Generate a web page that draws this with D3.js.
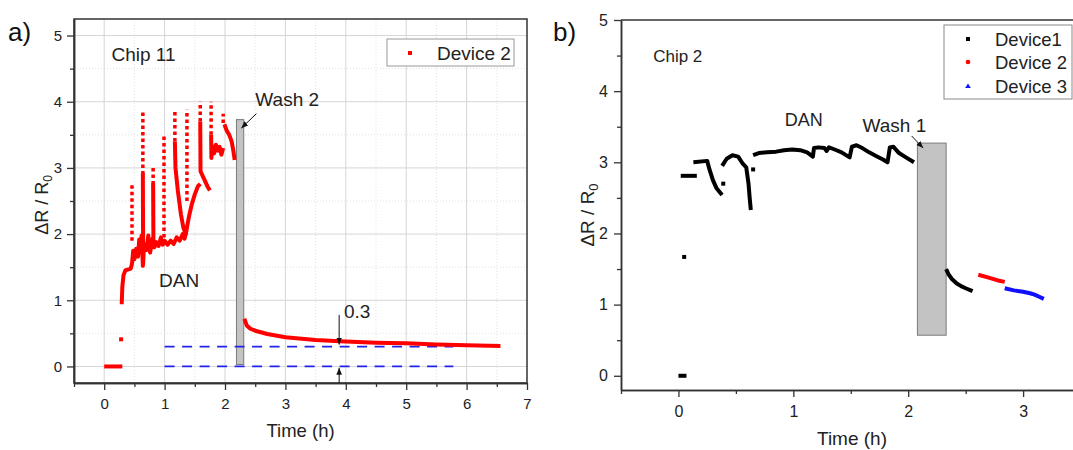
<!DOCTYPE html>
<html>
<head>
<meta charset="utf-8">
<script src="https://cdn.jsdelivr.net/npm/d3@7"></script>
<style>
  body { margin: 0; background: #fff; overflow: hidden; }
  svg { display: block; font-family: "Liberation Sans", Arial, sans-serif; }
</style>
</head>
<body>
<div id="chart"></div>
<script>
// ---- data (time in h, value is dR/R0) ----
const timeTicksA = [0, 1, 2, 3, 4, 5, 6, 7];
const timeTicksB = [0, 1, 2, 3];
const valueTicks = [0, 1, 2, 3, 4, 5];

// Chip 11, device 2
const chip11Flat = [[0, 0], [0.3, 0]];
const chip11Stray = [[0.28, 0.41]];
const chip11Rise = [[0.29, 0.94], [0.30, 1.2], [0.32, 1.38], [0.35, 1.45], [0.44, 1.48], [0.46, 1.55],
  [0.48, 1.75], [0.50, 1.62], [0.53, 1.78], [0.56, 1.66], [0.58, 1.92], [0.60, 1.72], [0.62, 1.98],
  [0.64, 1.52], [0.66, 1.85], [0.70, 1.76], [0.73, 1.98], [0.76, 1.72], [0.80, 1.93], [0.83, 1.8],
  [0.86, 1.88], [0.90, 1.82], [0.94, 1.95], [0.97, 1.84], [1.0, 1.9], [1.05, 1.84], [1.10, 1.9],
  [1.15, 1.85], [1.20, 1.95], [1.25, 1.9], [1.30, 2.0], [1.33, 1.93], [1.36, 2.05]];
// dotted jumps: [time, low, high]
const chip11Spikes = [[0.46, 1.9, 2.74], [0.64, 2.9, 3.85], [0.81, 2.75, 3.02], [0.99, 1.95, 3.5],
  [1.17, 3.4, 3.88], [1.37, 2.5, 3.88], [1.59, 3.7, 4.0], [1.77, 3.5, 4.0], [1.97, 3.68, 3.82]];
const chip11Runs = [
  [[0.64, 2.92], [0.645, 1.55]],
  [[0.81, 2.77], [0.815, 1.85]],
  [[1.17, 3.4], [1.18, 3.0], [1.22, 2.65], [1.27, 2.3], [1.31, 2.1], [1.35, 2.0], [1.40, 2.25],
   [1.45, 2.45], [1.50, 2.6], [1.55, 2.72], [1.59, 2.76]],
  [[1.59, 3.7], [1.595, 2.95], [1.63, 2.88], [1.67, 2.8], [1.71, 2.72], [1.75, 2.66]],
  [[1.77, 3.5], [1.775, 3.15], [1.79, 3.33], [1.82, 3.22], [1.85, 3.35], [1.88, 3.26], [1.91, 3.32],
   [1.94, 3.2], [1.97, 3.3]],
  [[1.99, 3.66], [2.03, 3.56], [2.07, 3.5], [2.11, 3.4], [2.14, 3.25], [2.16, 3.12]]
];
const chip11Recovery = [[2.32, 0.72], [2.36, 0.62], [2.42, 0.57], [2.5, 0.54], [2.7, 0.49], [3.0, 0.44],
  [3.5, 0.4], [3.9, 0.38], [4.5, 0.36], [5.0, 0.35], [5.5, 0.33], [6.0, 0.32], [6.56, 0.31]];
const chip11Levels = [0, 0.3];
const chip11Wash = [2.19, 2.31, 0.03, 3.73];

// Chip 2
const chip2Dev1Points = [[0.05, 1.67], [0.39, 2.7], [0.65, 2.9]];
const chip2Dev1Runs = [
  [[0, 0], [0.07, 0]],
  [[0.02, 2.81], [0.16, 2.81]],
  [[0.13, 3.0], [0.25, 3.02], [0.27, 2.9], [0.30, 2.75], [0.33, 2.64], [0.36, 2.58], [0.38, 2.54]],
  [[0.38, 2.95], [0.42, 3.05], [0.47, 3.1], [0.52, 3.08], [0.56, 2.98], [0.59, 2.93], [0.61, 2.7],
   [0.62, 2.5], [0.63, 2.33]],
  [[0.65, 3.1], [0.70, 3.13], [0.77, 3.14], [0.85, 3.15], [0.92, 3.17], [0.99, 3.18], [1.06, 3.17],
   [1.12, 3.14], [1.17, 3.08], [1.18, 3.2], [1.22, 3.21], [1.27, 3.2], [1.29, 3.16], [1.31, 3.21],
   [1.36, 3.18], [1.42, 3.14], [1.49, 3.07], [1.51, 3.22], [1.55, 3.24], [1.60, 3.2], [1.66, 3.14],
   [1.72, 3.09], [1.78, 3.04], [1.82, 3.0], [1.84, 3.21], [1.87, 3.22], [1.92, 3.13], [1.98, 3.07],
   [2.05, 3.0]],
  [[2.33, 1.5], [2.35, 1.43], [2.38, 1.36], [2.42, 1.3], [2.46, 1.26], [2.50, 1.23], [2.56, 1.19]]
];
const chip2Dev2 = [[2.61, 1.42], [2.70, 1.38], [2.78, 1.34], [2.84, 1.32]];
const chip2Dev3 = [[2.84, 1.23], [2.92, 1.2], [3.0, 1.18], [3.06, 1.16], [3.10, 1.14], [3.14, 1.11], [3.18, 1.08]];
const chip2Wash = [2.08, 2.33, 0.57, 3.27];

const W = 1073, H = 450;
const svg = d3.select("#chart").append("svg")
  .attr("width", W).attr("height", H)
  .attr("viewBox", [0, 0, W, H]);

svg.append("defs").append("marker")
  .attr("id", "head")
  .attr("viewBox", "0 0 10 10")
  .attr("refX", 10).attr("refY", 5)
  .attr("markerWidth", 7).attr("markerHeight", 7)
  .attr("orient", "auto-start-reverse")
  .append("path").attr("d", "M0,1 L10,5 L0,9 z").attr("fill", "#111");

const halves = (lo, hi) => d3.range(lo, hi + 0.001, 0.5).filter(v => v % 1 !== 0);
const intFmt = d3.format("d");

function styleAxis(g, size) {
  g.select(".domain").attr("stroke", "#333").attr("stroke-width", 1.5);
  g.selectAll(".tick line").attr("stroke", "#333").attr("stroke-width", 1.3);
  g.selectAll(".tick text").attr("fill", "#222").style("font-size", size + "px");
}

function arrow(x, y, p0, p1) {
  svg.append("line")
    .attr("x1", x(p0[0])).attr("y1", y(p0[1]))
    .attr("x2", x(p1[0])).attr("y2", y(p1[1]))
    .attr("stroke", "#111").attr("stroke-width", 1)
    .attr("marker-end", "url(#head)");
}

// ================= panel a =================
const xa = d3.scaleLinear().domain([-0.5, 7]).range([74, 527]);
const ya = d3.scaleLinear().domain([-0.25, 5.25]).range([383, 19]);
const lineA = d3.line().x(d => xa(d[0])).y(d => ya(d[1]));

// grid
const gridA = svg.append("g");
gridA.selectAll(".vmin").data(halves(0, 7)).join("line")
  .attr("x1", d => xa(d)).attr("x2", d => xa(d)).attr("y1", ya(5.25)).attr("y2", ya(-0.25))
  .attr("stroke", "#e2e2e2").attr("stroke-dasharray", "1,2");
gridA.selectAll(".hmin").data(halves(0, 5)).join("line")
  .attr("y1", d => ya(d)).attr("y2", d => ya(d)).attr("x1", xa(-0.5)).attr("x2", xa(7))
  .attr("stroke", "#e2e2e2").attr("stroke-dasharray", "1,2");
gridA.selectAll(".vmaj").data(timeTicksA.slice(0, -1)).join("line")
  .attr("x1", d => xa(d)).attr("x2", d => xa(d)).attr("y1", ya(5.25)).attr("y2", ya(-0.25))
  .attr("stroke", "#d6d6d6");
gridA.selectAll(".hmaj").data(valueTicks).join("line")
  .attr("y1", d => ya(d)).attr("y2", d => ya(d)).attr("x1", xa(-0.5)).attr("x2", xa(7))
  .attr("stroke", "#d6d6d6");

// wash bar
svg.append("rect")
  .attr("x", xa(chip11Wash[0])).attr("width", xa(chip11Wash[1]) - xa(chip11Wash[0]))
  .attr("y", ya(chip11Wash[3])).attr("height", ya(chip11Wash[2]) - ya(chip11Wash[3]))
  .attr("fill", "#c3c3c3").attr("stroke", "#7a7a7a").attr("stroke-width", 1);

// blue reference levels
svg.append("g").selectAll("line").data(chip11Levels).join("line")
  .attr("x1", xa(1)).attr("x2", xa(5.78))
  .attr("y1", d => ya(d)).attr("y2", d => ya(d))
  .attr("stroke", "#2323e8").attr("stroke-width", 1.8).attr("stroke-dasharray", "10,7.5");

// red data
const redA = svg.append("g").attr("fill", "none").attr("stroke", "#ff0000")
  .attr("stroke-linejoin", "round");
redA.selectAll(".run").data([chip11Flat, chip11Rise, ...chip11Runs, chip11Recovery]).join("path")
  .attr("d", lineA).attr("stroke-width", 4);
redA.selectAll(".spike").data(chip11Spikes).join("line")
  .attr("x1", d => xa(d[0])).attr("x2", d => xa(d[0]))
  .attr("y1", d => ya(d[1])).attr("y2", d => ya(d[2]))
  .attr("stroke-width", 3.5).attr("stroke-dasharray", "3.5,3");
svg.append("g").selectAll("rect").data(chip11Stray).join("rect")
  .attr("x", d => xa(d[0]) - 2).attr("y", d => ya(d[1]) - 2)
  .attr("width", 4).attr("height", 4).attr("fill", "#ff0000");

// axes
svg.append("g").attr("transform", `translate(0,${ya(-0.25)})`)
  .call(d3.axisBottom(xa).tickValues(halves(-0.5, 7)).tickSize(4).tickSizeOuter(0).tickFormat(""))
  .call(g => styleAxis(g, 15));
svg.append("g").attr("transform", `translate(0,${ya(-0.25)})`)
  .call(d3.axisBottom(xa).tickValues(timeTicksA).tickFormat(intFmt).tickSize(7).tickSizeOuter(0).tickPadding(8))
  .call(g => styleAxis(g, 15));
svg.append("g").attr("transform", `translate(${xa(-0.5)},0)`)
  .call(d3.axisLeft(ya).tickValues(halves(0, 5)).tickSize(4).tickSizeOuter(0).tickFormat(""))
  .call(g => styleAxis(g, 15));
svg.append("g").attr("transform", `translate(${xa(-0.5)},0)`)
  .call(d3.axisLeft(ya).tickValues(valueTicks).tickFormat(intFmt).tickSize(7).tickSizeOuter(0).tickPadding(5))
  .call(g => styleAxis(g, 15));
svg.append("rect")
  .attr("x", xa(-0.5)).attr("y", ya(5.25))
  .attr("width", xa(7) - xa(-0.5)).attr("height", ya(-0.25) - ya(5.25))
  .attr("fill", "none").attr("stroke", "#333").attr("stroke-width", 1.5);

// legend a
svg.append("rect").attr("x", 387).attr("y", 39).attr("width", 127).attr("height", 27)
  .attr("fill", "#fff").attr("stroke", "#999");
svg.append("rect").attr("x", 408).attr("y", 51).attr("width", 4).attr("height", 4).attr("fill", "#ff0000");
svg.append("text").attr("x", 437).attr("y", 59.5).attr("font-size", 19).attr("fill", "#222").text("Device 2");

// annotations a
svg.append("text").attr("x", xa(0.12)).attr("y", ya(4.72) + 7).attr("font-size", 19).attr("fill", "#222").text("Chip 11");
svg.append("text").attr("x", xa(3.03)).attr("y", ya(4.04) + 7).attr("text-anchor", "middle")
  .attr("font-size", 19).attr("fill", "#222").text("Wash 2");
arrow(xa, ya, [2.52, 3.82], [2.27, 3.6]);
svg.append("text").attr("x", xa(1.24)).attr("y", ya(1.31) + 7).attr("text-anchor", "middle")
  .attr("font-size", 19).attr("fill", "#222").text("DAN");
svg.append("text").attr("x", xa(3.97)).attr("y", ya(0.84) + 7)
  .attr("font-size", 19).attr("fill", "#222").text("0.3");
arrow(xa, ya, [3.89, 0.78], [3.89, 0.33]);
arrow(xa, ya, [3.89, -0.25], [3.89, -0.02]);

svg.append("text").attr("x", xa(3.25)).attr("y", 437).attr("text-anchor", "middle")
  .attr("font-size", 18.5).attr("fill", "#222").text("Time (h)");
svg.append("text").attr("transform", "translate(48,205) rotate(-90)").attr("text-anchor", "middle")
  .attr("font-size", 18).attr("fill", "#222")
  .call(t => { t.append("tspan").text("ΔR / R"); t.append("tspan").attr("font-size", 12).attr("dy", 4).text("0"); });
svg.append("text").attr("x", 8).attr("y", 41).attr("font-size", 26).attr("fill", "#111").text("a)");

// ================= panel b =================
const xb = d3.scaleLinear().domain([-0.5, 4]).range([621, 1138]);
const yb = d3.scaleLinear().domain([-0.2, 5]).range([390, 20]);
const lineB = d3.line().x(d => xb(d[0])).y(d => yb(d[1]));

svg.append("rect")
  .attr("x", xb(chip2Wash[0])).attr("width", xb(chip2Wash[1]) - xb(chip2Wash[0]))
  .attr("y", yb(chip2Wash[3])).attr("height", yb(chip2Wash[2]) - yb(chip2Wash[3]))
  .attr("fill", "#c3c3c3").attr("stroke", "#7a7a7a").attr("stroke-width", 1);

const seriesB = [
  ...chip2Dev1Runs.map(r => ({ pts: r, color: "#000" })),
  { pts: chip2Dev2, color: "#ff0000" },
  { pts: chip2Dev3, color: "#1010ff" }
];
svg.append("g").attr("fill", "none").attr("stroke-linejoin", "round")
  .selectAll("path").data(seriesB).join("path")
  .attr("d", d => lineB(d.pts)).attr("stroke", d => d.color).attr("stroke-width", 4);
svg.append("g").selectAll("rect").data(chip2Dev1Points).join("rect")
  .attr("x", d => xb(d[0]) - 2).attr("y", d => yb(d[1]) - 2)
  .attr("width", 4).attr("height", 4).attr("fill", "#000");

svg.append("g").attr("transform", `translate(0,${yb(-0.2)})`)
  .call(d3.axisBottom(xb).tickValues(halves(-0.5, 4)).tickSize(4).tickSizeOuter(0).tickFormat(""))
  .call(g => styleAxis(g, 16));
svg.append("g").attr("transform", `translate(0,${yb(-0.2)})`)
  .call(d3.axisBottom(xb).tickValues(timeTicksB).tickFormat(intFmt).tickSize(7).tickSizeOuter(0).tickPadding(9))
  .call(g => styleAxis(g, 16));
svg.append("g").attr("transform", `translate(${xb(-0.5)},0)`)
  .call(d3.axisLeft(yb).tickValues(halves(0, 5)).tickSize(4).tickSizeOuter(0).tickFormat(""))
  .call(g => styleAxis(g, 16));
svg.append("g").attr("transform", `translate(${xb(-0.5)},0)`)
  .call(d3.axisLeft(yb).tickValues(valueTicks).tickFormat(intFmt).tickSize(7).tickSizeOuter(0).tickPadding(6))
  .call(g => styleAxis(g, 16));
svg.append("line").attr("x1", xb(-0.5)).attr("x2", xb(4)).attr("y1", yb(5)).attr("y2", yb(5))
  .attr("stroke", "#333").attr("stroke-width", 1.5);

// legend b
svg.append("rect").attr("x", 944).attr("y", 25).attr("width", 128).attr("height", 74)
  .attr("fill", "#fff").attr("stroke", "#888");
svg.append("rect").attr("x", 966).attr("y", 37).attr("width", 4).attr("height", 4).attr("fill", "#000");
svg.append("circle").attr("cx", 968).attr("cy", 62).attr("r", 2.3).attr("fill", "#ff0000");
svg.append("path").attr("d", "M968,83.5 L970.8,88 L965.2,88 Z").attr("fill", "#1010ff");
svg.append("g").attr("font-size", 18.5).attr("fill", "#222")
  .selectAll("text").data(["Device1", "Device 2", "Device 3"]).join("text")
  .attr("x", 995).attr("y", (d, i) => 45.5 + i * 23.5).text(d => d);

svg.append("text").attr("x", xb(-0.22)).attr("y", yb(4.5) + 6).attr("font-size", 17).attr("fill", "#222").text("Chip 2");
svg.append("text").attr("x", xb(1.09)).attr("y", yb(3.6) + 6).attr("text-anchor", "middle")
  .attr("font-size", 18).attr("fill", "#222").text("DAN");
svg.append("text").attr("x", xb(1.88)).attr("y", yb(3.52) + 7).attr("text-anchor", "middle")
  .attr("font-size", 19).attr("fill", "#222").text("Wash 1");
arrow(xb, yb, [2.03, 3.37], [2.13, 3.2]);

svg.append("text").attr("x", 852).attr("y", 445).attr("text-anchor", "middle")
  .attr("font-size", 19).attr("fill", "#222").text("Time (h)");
svg.append("text").attr("transform", "translate(594,215) rotate(-90)").attr("text-anchor", "middle")
  .attr("font-size", 19).attr("fill", "#222")
  .call(t => { t.append("tspan").text("ΔR / R"); t.append("tspan").attr("font-size", 13).attr("dy", 4).text("0"); });
svg.append("text").attr("x", 553).attr("y", 41).attr("font-size", 26).attr("fill", "#111").text("b)");
</script>
</body>
</html>
